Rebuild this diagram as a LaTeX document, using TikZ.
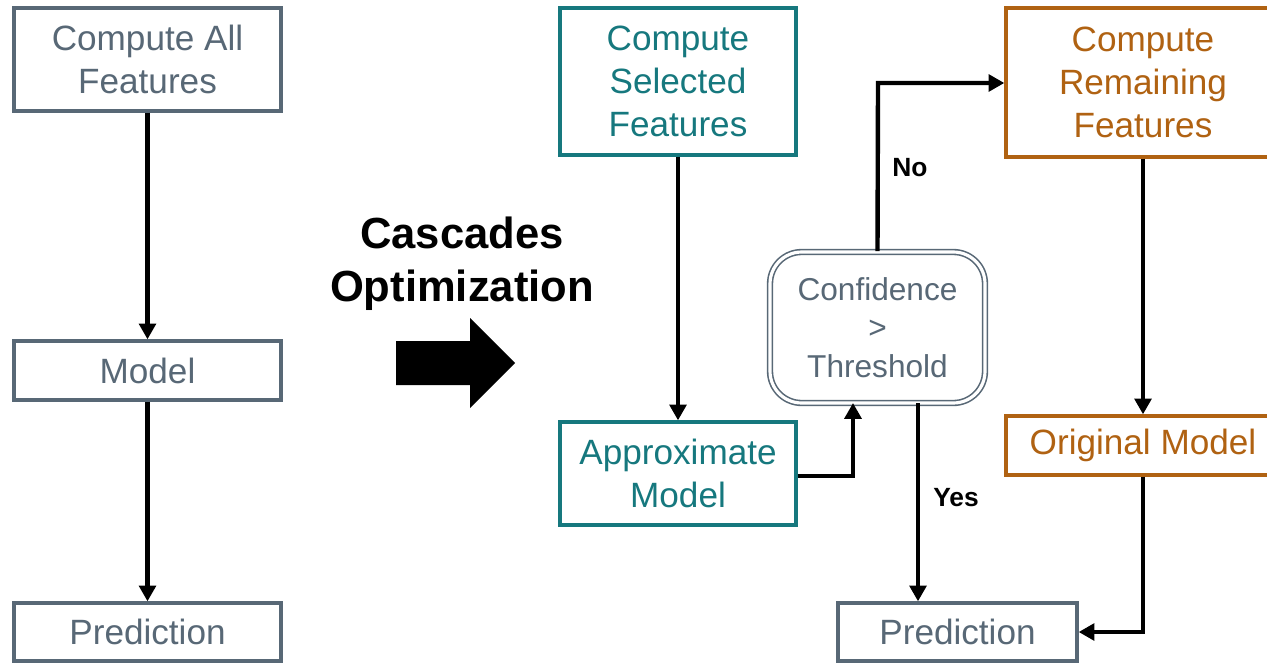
\documentclass[tikz,border=0pt]{standalone}
\usepackage{fontspec}
\setmainfont{Liberation Sans}
\usetikzlibrary{arrows.meta}
\definecolor{slate}{RGB}{88,104,118}
\definecolor{teal}{RGB}{22,120,126}
\definecolor{brown}{RGB}{176,98,18}
\tikzset{
  box/.style={draw, line width=1.9pt, inner sep=0pt, align=center,
    font=\fontsize{20}{24.4}\selectfont},
  grey box/.style={box, draw=slate, text=slate},
  teal box/.style={box, draw=teal, text=teal},
  brown box/.style={box, draw=brown, text=brown},
  decision/.style={draw=slate, text=slate, line width=0.9pt, double=white,
    double distance=1.8pt, rounded corners=18pt, inner sep=0pt, align=center,
    font=\fontsize{18}{21.8}\selectfont},
  flow/.style={line width=2.5pt, -{Triangle[length=9pt,width=9.5pt]}},
  lbl/.style={font=\fontsize{15}{18}\selectfont\bfseries},
}
\begin{document}
\begin{tikzpicture}[x=0.02cm, y=-0.02cm]
\useasboundingbox (0,0) rectangle (1267,663);
\fill[white] (0,0) rectangle (1267,663);

% original pipeline
\node[grey box, minimum width=5.34cm, minimum height=2.06cm] (all) at (147.5,59.5) {Compute All\\Features};
\node[grey box, minimum width=5.34cm, minimum height=1.18cm] (model) at (147.5,370.5) {Model};
\node[grey box, minimum width=5.34cm, minimum height=1.16cm] (predL) at (147.5,632) {Prediction};
\draw[flow] (all) -- (model);
\draw[flow] (model) -- (predL);

% transformation label and block arrow
\node[font=\fontsize{24.8}{30}\selectfont\bfseries, align=center] (title) at (462,264) {Cascades\\Optimization};
\fill[black] (396,341) -- (470,341) -- (470,318) -- (515,363) -- (470,408) -- (470,385) -- (396,385) -- cycle;

% cascaded pipeline
\node[teal box, minimum width=4.72cm, minimum height=2.94cm] (sel) at (678,81.5) {Compute\\Selected\\Features};
\node[teal box, minimum width=4.72cm, minimum height=2.06cm] (approx) at (678,473.5) {Approximate\\Model};
\node[decision, minimum width=4.3cm, minimum height=3.02cm] (conf) at (877.5,327.5) {Confidence\\>\\Threshold};
\node[brown box, minimum width=5.48cm, minimum height=2.98cm] (rem) at (1143,82.5) {Compute\\Remaining\\Features};
\node[brown box, minimum width=5.48cm, minimum height=1.18cm] (orig) at (1143,445.5) {Original Model};
\node[grey box, minimum width=4.78cm, minimum height=1.16cm] (predR) at (957.5,632) {Prediction};

\coordinate (confIn) at (853,403);
\coordinate (confOut) at (918,403);
\coordinate (noTurn) at (878,83);
\coordinate (origTurn) at (1143,632);

\draw[flow] (sel) -- (approx);
\draw[flow] (approx.east |- 0,476) -| (confIn);
\draw[flow] (conf.north) -- (noTurn) -- (rem.west |- noTurn);
\draw[flow] (confOut) -- (confOut |- predR.north);
\draw[flow] (rem.south) -- (orig.north);
\draw[flow] (orig.south) -- (origTurn) -- (predR.east);

\node[lbl] (no) at (910,168) {No};
\node[lbl] (yes) at (956,498) {Yes};
\end{tikzpicture}
\end{document}
